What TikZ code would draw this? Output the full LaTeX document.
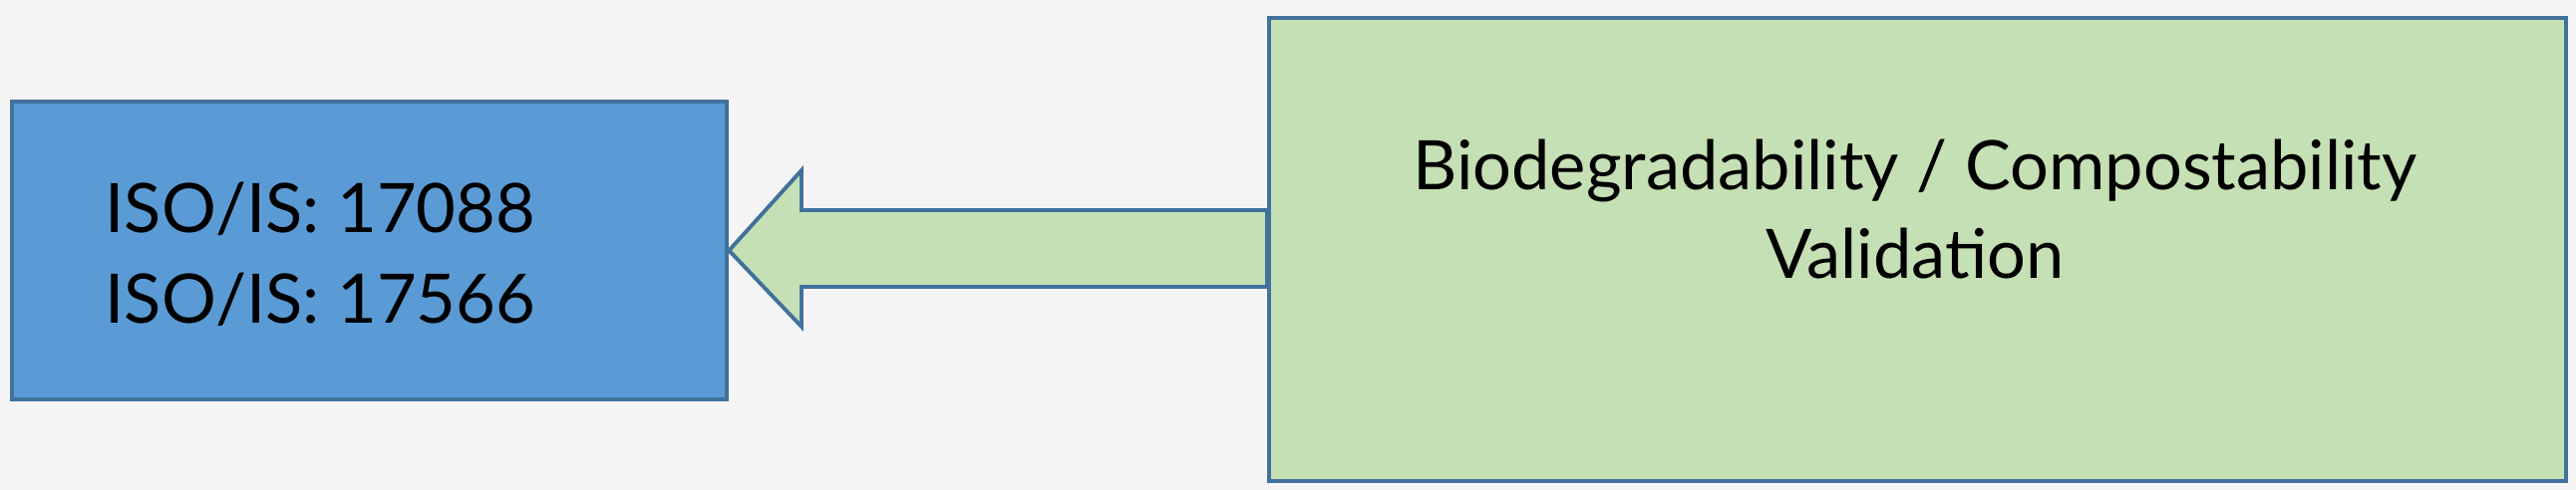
\documentclass[tikz,border=0pt]{standalone}
\usepackage{fontspec}
\setmainfont{Lato}
\usepackage{tikz}
\usetikzlibrary{positioning}
\definecolor{bgGrey}{HTML}{F4F4F4}
\definecolor{isoBlue}{HTML}{5B9BD5}
\definecolor{edgeBlue}{HTML}{41719C}
\definecolor{valGreen}{HTML}{C5E0B4}
\tikzset{
  box/.style={draw=edgeBlue, line width=1.1pt, inner sep=0pt, anchor=north west},
  boxtext/.style={font=\fontsize{19.5}{26}\selectfont, inner sep=0pt}
}

\begin{document}
\begin{tikzpicture}[x=0.01cm,y=-0.01cm]
\useasboundingbox (0,0) rectangle (2584,492);
\fill[bgGrey] (0,0) rectangle (2584,492);
% the two boxes
\node[box, fill=isoBlue, minimum width=7.17cm, minimum height=2.99cm] (iso) at (10,100) {};
\node[box, fill=valGreen, minimum width=13cm, minimum height=4.65cm] (valid) at (1271,16) {};
% block arrow from valid to iso
\coordinate (tip) at (iso.east);
\coordinate (shaftTop) at (804,211);
\coordinate (shaftBot) at (804,288);
\draw[edgeBlue, fill=valGreen, line width=1.1pt]
    (tip) -- (804,171) -- (shaftTop) -- (shaftTop -| valid.west)
    -- (shaftBot -| valid.west) -- (shaftBot) -- (804,328) -- cycle;
% texts
\node[boxtext, anchor=base west] (isoA) at (105,234) {ISO/IS: 17088};
\node[boxtext, anchor=base west] (isoB) at (105,325) {ISO/IS: 17566};
\node[boxtext, anchor=base] (valA) at (1921,191) {Biodegradability / Compostability};
\node[boxtext, anchor=base] (valB) at (1921,280) {Validation};
\end{tikzpicture}
\end{document}
